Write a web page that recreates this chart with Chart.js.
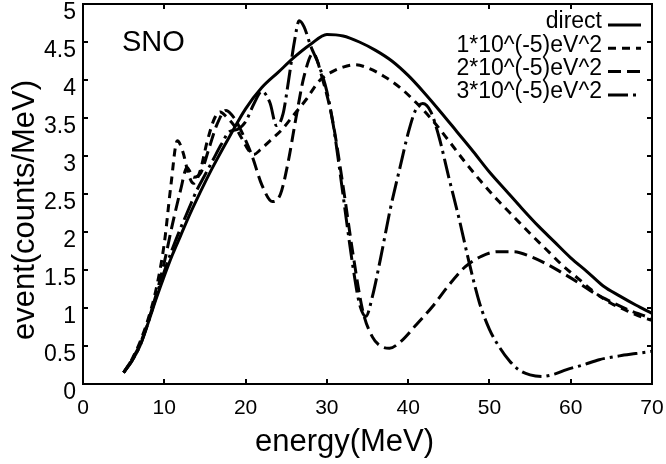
<!DOCTYPE html>
<html lang="en">
<head>
<meta charset="UTF-8">
<title>SNO event spectrum</title>
<script src="https://cdn.jsdelivr.net/npm/chart.js"></script>
<style>
  html, body { margin: 0; padding: 0; background: #fff; }
</style>
</head>
<body>
<canvas id="snoChart" width="666" height="464"></canvas>
<script>
// energy (MeV) and event rate (counts/MeV)
var directE = [5,6,7,8,9,10,11,12,13,14,15,16,18,20,22,24,26,28,30,32,34,36,38,40,42,44,46,48,50,52,54,56,58,60,62,64,66,68,70];
var directV = [0.15,0.3,0.5,0.8,1.12,1.42,1.7,1.95,2.2,2.43,2.65,2.86,3.25,3.62,3.9,4.1,4.3,4.47,4.6,4.58,4.5,4.39,4.25,4.06,3.83,3.58,3.32,3.06,2.79,2.55,2.31,2.08,1.87,1.66,1.48,1.29,1.16,1.04,0.93];

var dm1E = [5,6,7,8,9,10,10.8,11.6,12.3,13,13.6,14.4,15.3,16.2,16.9,17.6,18.6,19.6,20.4,21,21.8,23,24.5,26,27.5,29,30.5,32,33.5,35,37,39,41,43,45,47,49,51,53,55,57,59,61,63,65,67,69,70];
var dm1V = [0.15,0.32,0.55,0.85,1.25,1.85,2.6,3.2,3.05,2.75,2.64,2.8,3.2,3.5,3.58,3.52,3.4,3.22,3.07,3.02,3.08,3.2,3.35,3.55,3.75,3.98,4.1,4.17,4.2,4.16,4.05,3.9,3.7,3.47,3.2,2.92,2.66,2.42,2.2,1.98,1.77,1.56,1.38,1.2,1.06,0.96,0.87,0.84];

var dm2E = [5,6,7,8,9,10,11,12,12.8,13.6,14.5,15.5,16.5,17.6,18.6,19.6,20.8,22,23.3,24.3,25.2,26.2,27.2,28.3,29.5,30.7,32,33.2,34.4,35.6,36.6,37.7,39,41,43,45,47,49,51,53,55,57,59,61,63,65,67,69,70];
var dm2V = [0.15,0.32,0.52,0.82,1.18,1.6,2.1,2.55,2.85,2.72,2.78,3.1,3.42,3.6,3.5,3.3,3.0,2.62,2.4,2.5,2.9,3.5,4.05,4.35,4.0,3.47,2.6,1.72,0.97,0.62,0.5,0.47,0.55,0.78,1.02,1.3,1.54,1.68,1.74,1.74,1.68,1.58,1.46,1.33,1.19,1.08,0.98,0.9,0.86];

var dm3E = [5,6,7,8,9,10,11,12,13,14,15,16,17,18,19,20,21,22,23,23.8,24.6,25.3,26,26.6,27.2,28,29,30,30.8,31.6,32.4,33.2,34,34.8,35.6,36.6,37.8,39,40,40.9,41.8,42.8,43.8,45,46.3,47.5,48.8,50,51.2,52.5,53.7,55,56.5,58,59.5,61.5,63.5,66,68,70];
var dm3V = [0.15,0.3,0.5,0.8,1.15,1.48,1.78,2.05,2.3,2.55,2.75,2.95,3.15,3.32,3.35,3.45,3.68,3.85,3.7,3.4,3.55,4.0,4.5,4.78,4.7,4.45,4.2,3.85,3.4,2.8,2.16,1.55,1.06,0.89,1.15,1.65,2.3,2.85,3.3,3.6,3.69,3.58,3.25,2.72,2.16,1.6,1.06,0.72,0.49,0.3,0.18,0.12,0.1,0.13,0.19,0.25,0.32,0.37,0.4,0.43];

var seriesNames = ['direct', '1*10^(-5)eV^2', '2*10^(-5)eV^2', '3*10^(-5)eV^2'];
var xTitle = 'energy(MeV)';
var yTitle = 'event(counts/MeV)';
var panelName = 'SNO';

function pairs(xs, ys) {
    return xs.map(function (x, i) { return { x: x, y: ys[i] }; });
}

function lineSet(label, xs, ys, dash) {
    return {
        label: label,
        data: pairs(xs, ys),
        borderColor: '#000',
        borderWidth: 3,
        borderDash: dash,
        pointRadius: 0,
        fill: false,
        cubicInterpolationMode: 'monotone'
    };
}

var FONT = '"Liberation Sans", Arial, sans-serif';

// frame with inward ticks, titles, panel label and legend
var framePlugin = {
    id: 'frame',
    afterDraw: function (chart) {
        var ctx = chart.ctx, a = chart.chartArea;
        var xs = chart.scales.x, ys = chart.scales.y;
        ctx.save();
        ctx.strokeStyle = '#000';
        ctx.lineWidth = 2;
        ctx.beginPath();
        xs.ticks.forEach(function (t) {
            var p = Math.round(xs.getPixelForValue(t.value));
            ctx.moveTo(p, a.bottom); ctx.lineTo(p, a.bottom - 5);
            ctx.moveTo(p, a.top); ctx.lineTo(p, a.top + 5);
        });
        ys.ticks.forEach(function (t) {
            var p = Math.round(ys.getPixelForValue(t.value));
            ctx.moveTo(a.left, p); ctx.lineTo(a.left + 5, p);
            ctx.moveTo(a.right, p); ctx.lineTo(a.right - 5, p);
        });
        ctx.stroke();
        ctx.strokeRect(a.left, a.top, a.right - a.left, a.bottom - a.top);

        ctx.fillStyle = '#000';
        ctx.textBaseline = 'middle';
        ctx.textAlign = 'center';
        ctx.font = '31px ' + FONT;
        ctx.fillText(xTitle, (a.left + a.right) / 2 - 23, 442);
        ctx.save();
        ctx.translate(25, (a.top + a.bottom) / 2 + 16);
        ctx.rotate(-Math.PI / 2);
        ctx.fillText(yTitle, 0, 0);
        ctx.restore();

        ctx.textAlign = 'left';
        ctx.font = '29px ' + FONT;
        ctx.fillText(panelName, 122, 43);

        // legend: label on the left, line sample on the right
        ctx.font = '23px ' + FONT;
        ctx.textAlign = 'right';
        chart.data.datasets.forEach(function (ds, i) {
            var y = 22 + i * 23.3;
            ctx.fillText(ds.label, 602, y);
            ctx.beginPath();
            ctx.lineWidth = 3;
            ctx.setLineDash(ds.borderDash || []);
            ctx.moveTo(608, y + 3);
            ctx.lineTo(i === 3 ? 636 : 641, y + 3);
            ctx.stroke();
        });
        ctx.setLineDash([]);
        ctx.restore();
    }
};

var chart = new Chart(document.getElementById('snoChart').getContext('2d'), {
    type: 'line',
    data: {
        datasets: [
            lineSet(seriesNames[0], directE, directV, []),
            lineSet(seriesNames[1], dm1E, dm1V, [8, 6]),
            lineSet(seriesNames[2], dm2E, dm2V, [13, 6]),
            lineSet(seriesNames[3], dm3E, dm3V, [20, 5, 3, 5])
        ]
    },
    options: {
        responsive: false,
        animation: false,
        layout: { padding: { top: 4, right: 14, left: 0, bottom: 0 } },
        plugins: {
            legend: { display: false },
            tooltip: { enabled: false }
        },
        scales: {
            x: {
                type: 'linear',
                min: 0, max: 70,
                border: { display: false },
                grid: { display: false, drawTicks: false },
                ticks: { stepSize: 10, color: '#000', padding: 12, font: { family: FONT, size: 21 } },
                afterFit: function (s) { s.height = 80; s.paddingLeft = 0; s.paddingRight = 0; }
            },
            y: {
                type: 'linear',
                min: 0, max: 5,
                border: { display: false },
                grid: { display: false, drawTicks: false },
                ticks: {
                    stepSize: 0.5, color: '#000', padding: 7, labelOffset: 9,
                    font: { family: FONT, size: 23 },
                    callback: function (v) { return String(v); }
                },
                afterFit: function (s) { s.width = 83; s.paddingTop = 0; s.paddingBottom = 0; }
            }
        }
    },
    plugins: [framePlugin]
});
</script>
</body>
</html>
